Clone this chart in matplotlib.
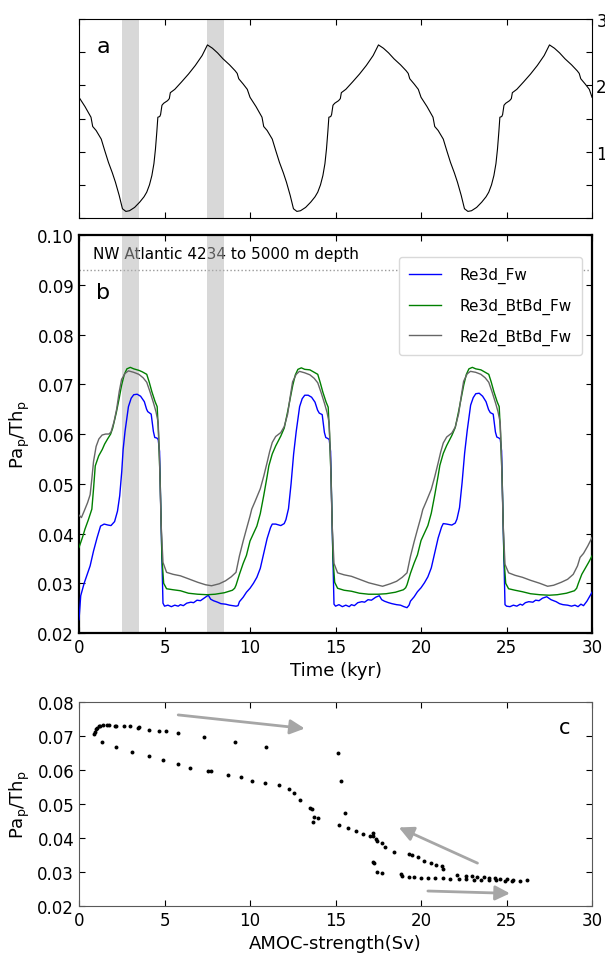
import matplotlib
matplotlib.use("Agg")
import matplotlib.pyplot as plt
import numpy as np

plt.rcParams['font.family'] = ['DejaVu Sans']
plt.rcParams['mathtext.default'] = 'regular'
plt.rcParams['xtick.direction'] = 'in'
plt.rcParams['ytick.direction'] = 'in'
plt.rcParams['xtick.top'] = True
plt.rcParams['ytick.right'] = True
plt.rcParams['xtick.major.size'] = 4.5
plt.rcParams['ytick.major.size'] = 4.5
plt.rcParams['xtick.labelsize'] = 12
plt.rcParams['ytick.labelsize'] = 12

# ---- panel a: forcing curve (three cycles of 10 kyr)
t_a = [0.0, 0.35, 0.7, 0.8, 1.0, 1.3, 1.5, 1.72, 1.95, 2.13, 2.35, 2.54, 2.74, 2.95, 3.25, 3.55, 3.8, 3.96,
       4.12, 4.26, 4.38, 4.47, 4.55, 4.61, 4.72, 4.77, 4.85, 4.95, 5.18, 5.28, 5.34, 5.6, 5.99, 6.4, 6.8,
       7.2, 7.51, 7.8, 8.1, 8.42, 8.8, 9.13, 9.25, 9.34, 9.6, 9.84,
       10.0, 10.35, 10.7, 10.8, 11.0, 11.3, 11.5, 11.72, 11.95, 12.13, 12.35, 12.54, 12.74, 12.95, 13.25,
       13.55, 13.8, 13.96, 14.12, 14.26, 14.38, 14.47, 14.55, 14.61, 14.72, 14.77, 14.85, 14.95, 15.18,
       15.28, 15.34, 15.6, 15.99, 16.4, 16.8, 17.2, 17.51, 17.8, 18.1, 18.42, 18.8, 19.13, 19.25, 19.34,
       19.6, 19.84,
       20.0, 20.35, 20.7, 20.8, 21.0, 21.3, 21.5, 21.72, 21.95, 22.13, 22.35, 22.54, 22.74, 22.95, 23.25,
       23.55, 23.8, 23.96, 24.12, 24.26, 24.38, 24.47, 24.55, 24.61, 24.72, 24.77, 24.85, 24.95, 25.18,
       25.28, 25.34, 25.6, 25.99, 26.4, 26.8, 27.2, 27.51, 27.8, 28.1, 28.42, 28.8, 29.13, 29.25, 29.34,
       29.6, 29.84, 30.0]
forcing = [1.82, 1.68, 1.52, 1.38, 1.32, 1.19, 1.02, 0.84, 0.68, 0.54, 0.34, 0.14, 0.10, 0.11, 0.16, 0.24, 0.32, 0.39,
           0.50, 0.64, 0.82, 1.04, 1.30, 1.52, 1.53, 1.56, 1.70, 1.73, 1.77, 1.80, 1.89, 1.94, 2.05, 2.17, 2.30,
           2.45, 2.61, 2.56, 2.49, 2.40, 2.31, 2.22, 2.18, 2.10, 2.02, 1.94,
           1.82, 1.68, 1.52, 1.38, 1.32, 1.19, 1.02, 0.84, 0.68, 0.54, 0.34, 0.14, 0.10, 0.11, 0.16,
           0.24, 0.32, 0.39, 0.50, 0.64, 0.82, 1.04, 1.30, 1.52, 1.53, 1.56, 1.70, 1.73, 1.77,
           1.80, 1.89, 1.94, 2.05, 2.17, 2.30, 2.45, 2.61, 2.56, 2.49, 2.40, 2.31, 2.22, 2.18, 2.10,
           2.02, 1.94,
           1.82, 1.68, 1.52, 1.38, 1.32, 1.19, 1.02, 0.84, 0.68, 0.54, 0.34, 0.14, 0.10, 0.11, 0.16,
           0.24, 0.32, 0.39, 0.50, 0.64, 0.82, 1.04, 1.30, 1.52, 1.53, 1.56, 1.70, 1.73, 1.77,
           1.80, 1.89, 1.94, 2.05, 2.17, 2.30, 2.45, 2.61, 2.56, 2.49, 2.40, 2.31, 2.22, 2.18, 2.10,
           2.02, 1.94, 1.82]

# ---- panel b: Pa/Th time series
t_blue = [0.0, 0.1, 0.3, 0.65, 0.85, 1.06, 1.26, 1.47, 1.7, 1.87, 2.08, 2.25, 2.38, 2.5, 2.58, 2.69, 2.89, 3.05,
          3.2, 3.4, 3.6, 3.82, 3.95, 4.02, 4.22, 4.35, 4.43, 4.55, 4.63, 4.71, 4.8, 4.91, 5.0, 5.2, 5.4,
          5.6, 5.8, 5.93, 6.1, 6.3, 6.54, 6.7, 6.9, 7.1, 7.35, 7.56, 7.7, 7.86, 8.1, 8.3, 8.57, 8.8, 9.0,
          9.18, 9.3, 9.38, 9.6, 9.79,
          10.0, 10.2, 10.4, 10.6, 10.8, 11.0, 11.2, 11.3, 11.5, 11.8, 12.0, 12.1, 12.25, 12.4, 12.55, 12.7,
          12.9, 13.05, 13.2, 13.4, 13.6, 13.8, 13.95, 14.05, 14.22, 14.35, 14.43, 14.55, 14.63, 14.71, 14.8,
          14.91, 15.0, 15.2, 15.4, 15.6, 15.8, 15.93, 16.1, 16.3, 16.54, 16.7, 16.9, 17.1, 17.35, 17.56,
          17.7, 17.86, 18.1, 18.3, 18.57, 18.8, 19.0, 19.18, 19.3, 19.38, 19.6, 19.79,
          20.0, 20.2, 20.4, 20.6, 20.8, 21.0, 21.2, 21.3, 21.5, 21.8, 22.0, 22.1, 22.25, 22.4, 22.55, 22.7,
          22.9, 23.05, 23.2, 23.4, 23.6, 23.8, 23.95, 24.05, 24.22, 24.35, 24.43, 24.55, 24.63, 24.71, 24.8,
          24.91, 25.0, 25.2, 25.4, 25.6, 25.8, 25.93, 26.1, 26.3, 26.54, 26.7, 26.9, 27.1, 27.35, 27.6,
          27.75, 27.9, 28.1, 28.3, 28.57, 28.8, 29.0, 29.18, 29.35, 29.5, 29.7, 29.85, 30.0]
blue = [0.0227, 0.0275, 0.0300, 0.0335, 0.0365, 0.0392, 0.0415, 0.0419, 0.0417, 0.0416, 0.0424, 0.0445, 0.0476, 0.0525,
        0.0569, 0.0605, 0.0655, 0.0672, 0.0679, 0.0680, 0.0676, 0.0665, 0.0650, 0.0645, 0.0640, 0.0605, 0.0593,
        0.0592, 0.0589, 0.0565, 0.0420, 0.0260, 0.0254, 0.0256, 0.0253, 0.0256, 0.0254, 0.0257, 0.0255, 0.0260,
        0.0262, 0.0261, 0.0266, 0.0265, 0.0271, 0.0276, 0.0268, 0.0265, 0.0262, 0.0259, 0.0258, 0.0256, 0.0255,
        0.0254, 0.0255, 0.0263, 0.0272, 0.0282,
        0.0290, 0.0300, 0.0312, 0.0330, 0.0360, 0.0390, 0.0412, 0.0419, 0.0419, 0.0416, 0.0420, 0.0428, 0.0450,
        0.0500, 0.0560, 0.0605, 0.0655, 0.0671, 0.0678, 0.0678, 0.0674, 0.0664, 0.0648, 0.0642, 0.0639, 0.0603,
        0.0593, 0.0591, 0.0589, 0.0565, 0.0420, 0.0258, 0.0254, 0.0257, 0.0253, 0.0256, 0.0253, 0.0257, 0.0255,
        0.0261, 0.0263, 0.0262, 0.0267, 0.0266, 0.0272, 0.0275, 0.0267, 0.0264, 0.0261, 0.0259, 0.0257, 0.0256,
        0.0253, 0.0251, 0.0256, 0.0264, 0.0273, 0.0283,
        0.0291, 0.0301, 0.0313, 0.0331, 0.0361, 0.0391, 0.0413, 0.0420, 0.0419, 0.0417, 0.0421, 0.0429, 0.0452,
        0.0502, 0.0562, 0.0607, 0.0658, 0.0673, 0.0681, 0.0682, 0.0676, 0.0665, 0.0649, 0.0643, 0.0640, 0.0604,
        0.0594, 0.0592, 0.0590, 0.0566, 0.0420, 0.0257, 0.0254, 0.0253, 0.0256, 0.0254, 0.0258, 0.0256, 0.0261,
        0.0263, 0.0262, 0.0266, 0.0265, 0.0270, 0.0273, 0.0267, 0.0265, 0.0263, 0.0259, 0.0257, 0.0256, 0.0254,
        0.0256, 0.0253, 0.0258, 0.0255, 0.0264, 0.0273, 0.0282]

t_green = [0.0, 0.2, 0.35, 0.55, 0.75, 0.85, 0.95, 1.15, 1.36, 1.5, 1.67, 1.85, 1.97, 2.18, 2.35, 2.49, 2.65, 2.8,
           3.0, 3.2, 3.5, 3.7, 3.96, 4.1, 4.26, 4.45, 4.57, 4.65, 4.75, 4.85, 4.95, 5.12, 5.5, 5.93, 6.4, 6.94,
           7.5, 7.96, 8.5, 8.97, 9.1, 9.18, 9.38, 9.6, 9.79,
           10.0, 10.2, 10.4, 10.6, 10.8, 11.0, 11.1, 11.3, 11.5, 11.8, 12.0, 12.2, 12.35, 12.5, 12.65, 12.8,
           13.0, 13.2, 13.5, 13.7, 13.96, 14.1, 14.26, 14.45, 14.57, 14.65, 14.75, 14.85, 14.95, 15.12, 15.5,
           15.93, 16.4, 16.94, 17.5, 17.96, 18.5, 18.97, 19.1, 19.18, 19.38, 19.6, 19.79,
           20.0, 20.2, 20.4, 20.6, 20.8, 21.0, 21.1, 21.3, 21.5, 21.8, 22.0, 22.2, 22.35, 22.5, 22.65, 22.8,
           23.0, 23.2, 23.5, 23.7, 23.96, 24.1, 24.26, 24.45, 24.57, 24.65, 24.75, 24.85, 24.95, 25.12, 25.5,
           25.93, 26.4, 26.94, 27.5, 27.96, 28.5, 28.97, 29.1, 29.2, 29.4, 29.6, 29.8, 30.0]
green = [0.0372, 0.0392, 0.0409, 0.0428, 0.0449, 0.0490, 0.0536, 0.0556, 0.0569, 0.0580, 0.0590, 0.0600, 0.0612,
         0.0643, 0.0672, 0.0698, 0.0720, 0.0731, 0.0734, 0.0731, 0.0728, 0.0725, 0.0720, 0.0705, 0.0685, 0.0665,
         0.0655, 0.0600, 0.0500, 0.0350, 0.0300, 0.0289, 0.0287, 0.0285, 0.0280, 0.0278, 0.0277, 0.0278, 0.0281,
         0.0286, 0.0290, 0.0296, 0.0318, 0.0340, 0.0356,
         0.0385, 0.0400, 0.0415, 0.0440, 0.0476, 0.0515, 0.0536, 0.0560, 0.0576, 0.0596, 0.0612, 0.0645, 0.0672,
         0.0698, 0.0719, 0.0730, 0.0733, 0.0730, 0.0729, 0.0725, 0.0720, 0.0704, 0.0684, 0.0664, 0.0654, 0.0600,
         0.0500, 0.0350, 0.0302, 0.0290, 0.0286, 0.0284, 0.0280, 0.0278, 0.0278, 0.0279, 0.0282, 0.0287, 0.0291,
         0.0297, 0.0320, 0.0341, 0.0357,
         0.0386, 0.0401, 0.0416, 0.0441, 0.0477, 0.0516, 0.0537, 0.0561, 0.0577, 0.0597, 0.0613, 0.0646, 0.0673,
         0.0699, 0.0720, 0.0731, 0.0734, 0.0731, 0.0729, 0.0725, 0.0720, 0.0705, 0.0685, 0.0665, 0.0655, 0.0600,
         0.0500, 0.0350, 0.0300, 0.0289, 0.0286, 0.0283, 0.0279, 0.0277, 0.0276, 0.0277, 0.0280, 0.0285, 0.0290,
         0.0300, 0.0318, 0.0330, 0.0342, 0.0355]

t_gray = [0.0, 0.14, 0.3, 0.5, 0.65, 0.75, 0.85, 1.0, 1.16, 1.35, 1.56, 1.75, 1.87, 2.05, 2.2, 2.35, 2.49, 2.7, 2.89,
          3.2, 3.5, 3.75, 3.96, 4.15, 4.36, 4.5, 4.63, 4.71, 4.8, 4.91, 5.12, 5.5, 5.93, 6.4, 6.94, 7.4, 7.75,
          8.2, 8.57, 8.9, 9.18, 9.38, 9.6, 9.79,
          10.0, 10.1, 10.3, 10.6, 10.8, 11.0, 11.15, 11.3, 11.5, 11.8, 12.0, 12.2, 12.35, 12.49, 12.7, 12.89,
          13.2, 13.5, 13.75, 13.96, 14.15, 14.36, 14.5, 14.63, 14.71, 14.8, 14.91, 15.12, 15.5, 15.93, 16.4,
          16.94, 17.4, 17.75, 18.2, 18.57, 18.9, 19.18, 19.38, 19.6, 19.79,
          20.0, 20.1, 20.3, 20.6, 20.8, 21.0, 21.15, 21.3, 21.5, 21.8, 22.0, 22.2, 22.35, 22.49, 22.7, 22.89,
          23.2, 23.5, 23.75, 23.96, 24.15, 24.36, 24.5, 24.63, 24.71, 24.8, 24.91, 25.12, 25.5, 25.93, 26.4,
          26.94, 27.4, 27.75, 28.2, 28.57, 28.9, 29.15, 29.3, 29.5, 29.75, 30.0]
gray = [0.0437, 0.0432, 0.0445, 0.0462, 0.0478, 0.0510, 0.0545, 0.0575, 0.0590, 0.0598, 0.0600, 0.0600, 0.0604,
        0.0625, 0.0650, 0.0685, 0.0710, 0.0722, 0.0727, 0.0724, 0.0720, 0.0713, 0.0704, 0.0685, 0.0662, 0.0645,
        0.0623, 0.0545, 0.0420, 0.0342, 0.0322, 0.0318, 0.0315, 0.0309, 0.0302, 0.0297, 0.0295, 0.0299, 0.0305,
        0.0313, 0.0322, 0.0355, 0.0385, 0.0409,
        0.0435, 0.0449, 0.0465, 0.0490, 0.0515, 0.0543, 0.0565, 0.0583, 0.0595, 0.0603, 0.0615, 0.0640, 0.0675,
        0.0705, 0.0720, 0.0726, 0.0723, 0.0719, 0.0712, 0.0703, 0.0684, 0.0661, 0.0644, 0.0622, 0.0545, 0.0420,
        0.0340, 0.0321, 0.0317, 0.0314, 0.0308, 0.0301, 0.0297, 0.0294, 0.0299, 0.0304, 0.0312, 0.0321, 0.0354,
        0.0384, 0.0408,
        0.0434, 0.0448, 0.0464, 0.0489, 0.0514, 0.0542, 0.0564, 0.0582, 0.0594, 0.0602, 0.0614, 0.0641, 0.0676,
        0.0706, 0.0721, 0.0726, 0.0724, 0.0720, 0.0713, 0.0704, 0.0685, 0.0662, 0.0645, 0.0623, 0.0545, 0.0420,
        0.0338, 0.0321, 0.0316, 0.0312, 0.0306, 0.0300, 0.0294, 0.0296, 0.0302, 0.0308, 0.0318, 0.0335, 0.0352,
        0.0360, 0.0375, 0.0392]

# ---- panel c: Pa/Th against AMOC strength
amoc = [0.88, 0.94, 0.99, 1.03, 1.17, 1.23, 1.39, 1.62, 1.73, 2.1, 2.18, 2.63, 2.97, 3.47, 3.53, 4.09, 4.7, 5.06,
        5.8, 7.3, 9.12, 10.94,
        1.36, 2.14, 3.08, 4.09, 4.93, 5.77, 6.49, 7.56, 7.7, 8.73, 9.45, 10.1, 10.9, 11.7, 12.25, 12.6, 12.9,
        13.5, 13.6, 13.7, 13.75, 14.0,
        15.17, 15.3, 15.55, 17.2, 17.25, 17.4, 17.7,
        15.2, 15.7, 16.2, 16.6, 17.0, 17.2, 17.2, 17.35, 17.45, 17.7, 17.9, 18.4, 19.3, 19.5, 19.8, 20.15, 20.6,
        20.9, 21.2, 21.3,
        18.8, 18.9, 19.3, 19.6, 20.0, 20.4, 20.8, 21.3, 21.7, 22.2, 22.6, 23.1, 23.5, 24.0, 24.4, 24.9, 25.3,
        25.8, 26.2,
        22.1, 22.6, 23.0, 23.3, 23.7, 24.0, 24.3, 24.6, 25.0, 25.4]
pa_th = [0.0707, 0.0712, 0.0722, 0.0724, 0.0729, 0.0730, 0.0731, 0.0731, 0.0731, 0.0730, 0.0730, 0.0729, 0.0728,
         0.0724, 0.0725, 0.0719, 0.0716, 0.0715, 0.0710, 0.0696, 0.0683, 0.0667,
         0.0681, 0.0668, 0.0654, 0.0642, 0.0629, 0.0617, 0.0607, 0.0596, 0.0596, 0.0586, 0.0578, 0.0567, 0.0562,
         0.0555, 0.0545, 0.0532, 0.0513, 0.0487, 0.0484, 0.0448, 0.0463, 0.0458,
         0.0650, 0.0567, 0.0474, 0.0330, 0.0325, 0.0299, 0.0297,
         0.0438, 0.0429, 0.0421, 0.0412, 0.0407, 0.0415, 0.0405, 0.0397, 0.0392, 0.0385, 0.0372, 0.0359, 0.0353,
         0.0350, 0.0343, 0.0333, 0.0326, 0.0320, 0.0318, 0.0310,
         0.0293, 0.0287, 0.0286, 0.0284, 0.0282, 0.0281, 0.0281, 0.0281, 0.0280, 0.0279, 0.0278, 0.0277, 0.0276,
         0.0275, 0.0275, 0.0274, 0.0274, 0.0274, 0.0275,
         0.0291, 0.0289, 0.0288, 0.0286, 0.0284, 0.0283, 0.0281, 0.0279, 0.0278, 0.0277]

# arrows in panel c: (start, tip)
arrows_c = [((5.8, 0.0762), (13.2, 0.0722)),
            ((23.3, 0.0326), (18.7, 0.0431)),
            ((20.4, 0.0244), (25.2, 0.0237))]

bands = [(2.5, 3.5), (7.5, 8.5)]

fig = plt.figure(figsize=(6.05, 9.54), dpi=100)
ax_a = fig.add_axes([0.1306, 0.7704, 0.848, 0.2086])
ax_b = fig.add_axes([0.1306, 0.3354, 0.848, 0.4172])
ax_c = fig.add_axes([0.1306, 0.0493, 0.848, 0.2138])

# panel a
for x0, x1 in bands:
    ax_a.axvspan(x0, x1, color='0.7', alpha=0.5, lw=0, zorder=2)
ax_a.plot(t_a, forcing, color='k', lw=0.8, zorder=3)
ax_a.set_xlim(0, 30)
ax_a.set_ylim(0, 3)
ax_a.set_xticks(np.arange(0, 31, 5))
ax_a.set_xticklabels([])
ax_a.set_yticks(np.arange(0, 3.01, 0.5))
ax_a.set_yticklabels(['', '', '1', '', '2', '', '3'])
ax_a.yaxis.tick_right()
ax_a.tick_params(axis='y', which='both', left=True, right=True, labelleft=False, labelright=True, pad=3)
ax_a.text(1.4, 2.6, 'a', fontsize=16, ha='center', va='center')

# panel b
ax_b.text(0.8, 0.0963, 'NW Atlantic 4234 to 5000 m depth', fontsize=11, va='center', zorder=1)
ax_b.axhline(0.093, color='0.6', ls=':', lw=1, zorder=1)
for x0, x1 in bands:
    ax_b.axvspan(x0, x1, color='0.7', alpha=0.5, lw=0, zorder=2)
ax_b.plot(t_blue, blue, color='#0000ff', lw=1.0, label='Re3d_Fw', zorder=3)
ax_b.plot(t_green, green, color='#008000', lw=1.0, label='Re3d_BtBd_Fw', zorder=3)
ax_b.plot(t_gray, gray, color='#666666', lw=1.0, label='Re2d_BtBd_Fw', zorder=3)
ax_b.set_xlim(0, 30)
ax_b.set_ylim(0.02, 0.10)
ax_b.set_xticks(np.arange(0, 31, 5))
ax_b.set_yticks(np.arange(0.02, 0.1001, 0.01))
ax_b.yaxis.set_major_formatter(matplotlib.ticker.FormatStrFormatter('%.2f'))
ax_b.set_xlabel('Time (kyr)', fontsize=13)
ax_b.set_ylabel('Pa$_{p}$/Th$_{p}$', fontsize=13)
for sp in ax_b.spines.values():
    sp.set_linewidth(1.6)
ax_b.text(1.4, 0.0885, 'b', fontsize=16, ha='center', va='center')
leg = ax_b.legend(loc='upper right', bbox_to_anchor=(0.98, 0.944), borderaxespad=0, fontsize=11,
                  labelspacing=0.95, handlelength=2.05, handletextpad=1.25, borderpad=0.65,
                  fancybox=True, framealpha=1.0, edgecolor='0.85')
leg.set_zorder(4)

# panel c
ax_c.scatter(amoc, pa_th, s=8, c='k', marker='o', lw=0, zorder=3)
for (x0, y0), (x1, y1) in arrows_c:
    ax_c.annotate('', xy=(x1, y1), xytext=(x0, y0),
                  arrowprops=dict(arrowstyle='-|>', color='0.65', lw=2, mutation_scale=22,
                                  shrinkA=0, shrinkB=0))
ax_c.set_xlim(0, 30)
ax_c.set_ylim(0.02, 0.08)
ax_c.set_xticks(np.arange(0, 31, 5))
ax_c.set_yticks(np.arange(0.02, 0.0801, 0.01))
ax_c.yaxis.set_major_formatter(matplotlib.ticker.FormatStrFormatter('%.2f'))
ax_c.set_xlabel('AMOC-strength(Sv)', fontsize=13)
ax_c.set_ylabel('Pa$_{p}$/Th$_{p}$', fontsize=13)
for sp in ax_c.spines.values():
    sp.set_color('0.35')
ax_c.text(28.4, 0.0727, 'c', fontsize=15, ha='center', va='center')

fig.savefig('out.png', dpi=100)
